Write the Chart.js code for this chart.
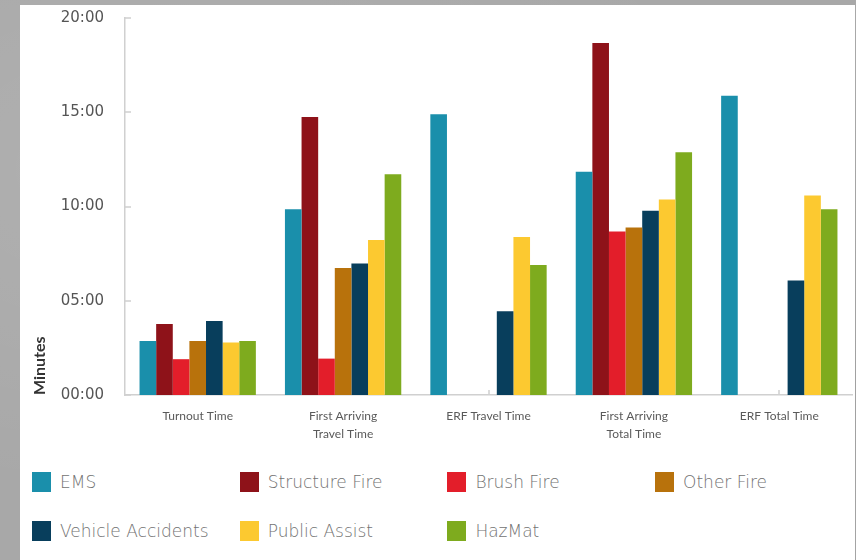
<!DOCTYPE html>
<html>
<head>
<meta charset="utf-8">
<script src="https://cdn.jsdelivr.net/npm/chart.js@4.4.0/dist/chart.umd.min.js"></script>
<style>
  html, body { margin: 0; padding: 0; }
  body {
    width: 856px; height: 560px; overflow: hidden; position: relative;
    background-color: #a8a8a8;
    background-image:
      radial-gradient(ellipse at 20% 30%, rgba(255,255,255,0.10), rgba(255,255,255,0) 60%),
      radial-gradient(ellipse at 80% 70%, rgba(0,0,0,0.06), rgba(0,0,0,0) 60%);
    font-family: "DejaVu Sans", sans-serif;
  }
  #panel { position: absolute; left: 20px; top: 5px; width: 835px; height: 555px; background: #ffffff; }
  #chart { position: absolute; left: 20px; top: 5px; }
  #legend {
    position: absolute; left: 32px; top: 472px;
    display: grid; grid-template-columns: repeat(4, 207.7px); grid-auto-rows: 48.5px;
  }
  .li { display: flex; align-items: flex-start; height: 20px; }
  .sw { width: 19px; height: 20px; flex: none; margin-right: 9px; }
  .tx { font-family: "DejaVu Sans", sans-serif; font-weight: 300; font-size: 17px; line-height: 20px; color: #727272; white-space: nowrap; }
</style>
</head>
<body>
<div id="panel"></div>
<canvas id="chart" width="835" height="445"></canvas>
<div id="legend"></div>
<script>
// ---- data ----
const categories = ['Turnout Time', ['First Arriving', 'Travel Time'], 'ERF Travel Time', ['First Arriving', 'Total Time'], 'ERF Total Time'];
const seriesNames = ['EMS', 'Structure Fire', 'Brush Fire', 'Other Fire', 'Vehicle Accidents', 'Public Assist', 'HazMat'];
const ems              = [2.86, 9.85, 14.89, 11.85, 15.87];
const structureFire    = [3.77, 14.75, null, 18.68, null];
const brushFire        = [1.90, 1.93, null, 8.67, null];
const otherFire        = [2.86, 6.74, null, 8.88, null];
const vehicleAccidents = [3.93, 6.97, 4.44, 9.78, 6.07];
const publicAssist     = [2.79, 8.22, 8.38, 10.37, 10.59];
const hazMat           = [2.86, 11.71, 6.90, 12.88, 9.85];
const yTickLabels = ['00:00', '05:00', '10:00', '15:00', '20:00'];
const seriesColors = ['#1a8fab', '#8e1219', '#e31e2a', '#b8720c', '#083e5c', '#fcc930', '#7eab1e'];
const seriesValues = [ems, structureFire, brushFire, otherFire, vehicleAccidents, publicAssist, hazMat];

const innerTicks = {
  id: 'innerTicks',
  beforeDatasetsDraw(chart) {
    const { ctx, scales: { x, y }, chartArea } = chart;
    ctx.save();
    ctx.strokeStyle = '#cfcfcf';
    ctx.lineWidth = 1.5;
    ctx.beginPath();
    y.ticks.forEach((t, i) => {
      const py = Math.round(y.getPixelForTick(i));
      ctx.moveTo(chartArea.left, py);
      ctx.lineTo(chartArea.left + 6, py);
    });
    x.ticks.forEach((t, i) => {
      const px = Math.round(x.getPixelForTick(i));
      ctx.moveTo(px, chartArea.bottom);
      ctx.lineTo(px, chartArea.bottom - 5);
    });
    ctx.stroke();
    ctx.restore();
  }
};

const chart = new Chart(document.getElementById('chart'), {
  type: 'bar',
  data: {
    labels: categories,
    datasets: seriesNames.map((name, i) => ({
      label: name,
      data: seriesValues[i],
      backgroundColor: seriesColors[i],
      borderWidth: 0,
      categoryPercentage: 0.8,
      barPercentage: 1.0
    }))
  },
  options: {
    responsive: false,
    animation: false,
    devicePixelRatio: 1,
    layout: { padding: { top: 13, right: 3, left: 0, bottom: 0 } },
    plugins: { legend: { display: false }, tooltip: { enabled: false } },
    scales: {
      x: {
        grid: { display: false },
        border: { display: true, color: '#d0d0d0', width: 1.5 },
        ticks: { color: '#5a5a5a', padding: 4, font: { family: 'Lato', size: 12, lineHeight: 1.5 }, maxRotation: 0, autoSkip: false },
        afterFit: (s) => { s.height = 55; s.paddingLeft = 0; s.paddingRight = 0; }
      },
      y: {
        min: 0, max: 20,
        grid: { display: false, drawTicks: false },
        border: { display: true, color: '#d0d0d0', width: 1.5 },
        ticks: {
          stepSize: 5, color: '#555555', padding: 21,
          font: { family: 'DejaVu Sans', size: 15 },
          callback: (v) => yTickLabels[Math.round(v / 5)]
        },
        title: { display: true, text: 'Minutes', align: 'start', color: '#333333',
                 font: { family: 'Lato', size: 16, weight: 'bold' }, padding: { top: 10, bottom: 0 } },
        afterFit: (s) => { s.width = 105; s.paddingTop = 0; s.paddingBottom = 0; }
      }
    }
  },
  plugins: [innerTicks]
});

const legendEl = document.getElementById('legend');
chart.data.datasets.forEach((ds) => {
  const item = document.createElement('div');
  item.className = 'li';
  const sw = document.createElement('span');
  sw.className = 'sw';
  sw.style.background = ds.backgroundColor;
  const tx = document.createElement('span');
  tx.className = 'tx';
  tx.textContent = ds.label;
  item.appendChild(sw); item.appendChild(tx);
  legendEl.appendChild(item);
});
</script>
</body>
</html>
